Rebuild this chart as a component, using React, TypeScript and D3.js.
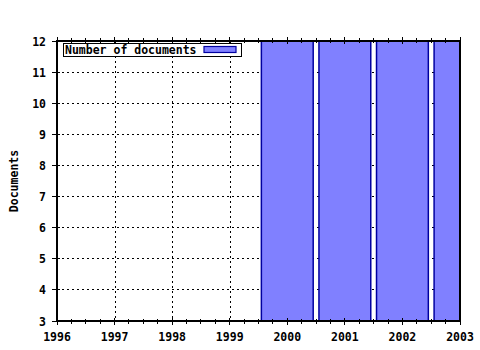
import React from "react";
import * as d3 from "d3";

const years = [1996, 1997, 1998, 1999, 2000, 2001, 2002, 2003];
const barYears = [2000, 2001, 2002, 2003];
const barValues = [16, 18, 20, 22];
const yTicks = [3, 4, 5, 6, 7, 8, 9, 10, 11, 12];
const legendLabel = "Number of documents";
const yLabel = "Documents";

const W = 480, H = 350;
const L = 57, R = 460, T = 41, B = 321;
const FONT = "'DejaVu Sans Mono', monospace";

export default function App() {
  const x = d3.scaleLinear().domain([1996, 2003]).range([L, R]);
  const y = d3.scaleLinear().domain([3, 12]).range([B, T]);
  const bw = 0.9;
  const minor: number[] = [];
  for (let i = 0; i < years.length - 1; i++) {
    for (let k = 1; k < 4; k++) minor.push(years[i] + k / 4);
  }
  return (
    <svg width={W} height={H} style={{ position: "absolute", left: 0, top: 0, background: "#fff" }}>
      <defs>
        <clipPath id="plot">
          <rect x={L} y={T} width={R - L} height={B - T} />
        </clipPath>
      </defs>
      <rect x={0} y={0} width={W} height={H} fill="#fff" />
      {/* grid */}
      {yTicks.slice(1, -1).map((v) => (
        <line key={"gy" + v} x1={L} x2={R} y1={y(v)} y2={y(v)} stroke="#000" strokeWidth={1} strokeDasharray="2,3" shapeRendering="crispEdges" />
      ))}
      {years.slice(1, -1).map((v) => (
        <line key={"gx" + v} x1={Math.round(x(v)) + 0.5} x2={Math.round(x(v)) + 0.5} y1={T} y2={B} stroke="#000" strokeWidth={1} strokeDasharray="2,3" shapeRendering="crispEdges" />
      ))}
      {/* bars */}
      <g clipPath="url(#plot)">
        {barYears.map((yr, i) => (
          <rect key={yr} x={x(yr - bw / 2)} width={x(yr + bw / 2) - x(yr - bw / 2)} y={y(barValues[i])} height={y(3) - y(barValues[i])} fill="#8080ff" stroke="#0000a0" strokeWidth={1.5} />
        ))}
      </g>
      {/* border */}
      <rect x={L} y={T} width={R - L} height={B - T} fill="none" stroke="#000" strokeWidth={1.2} shapeRendering="crispEdges" />
      {/* x ticks */}
      {years.map((v) => (
        <g key={"tx" + v}>
          <line x1={x(v)} x2={x(v)} y1={B - 3} y2={B + 4} stroke="#000" shapeRendering="crispEdges" />
          <line x1={x(v)} x2={x(v)} y1={T - 4} y2={T + 3} stroke="#000" shapeRendering="crispEdges" />
          <text x={x(v)} y={341} textAnchor="middle" fontFamily={FONT} fontWeight="bold" fontSize={11.5}>{v}</text>
        </g>
      ))}
      {minor.map((v, i) => (
        <g key={"mx" + i}>
          <line x1={x(v)} x2={x(v)} y1={B - 2} y2={B + 3} stroke="#000" shapeRendering="crispEdges" />
          <line x1={x(v)} x2={x(v)} y1={T - 3} y2={T + 2} stroke="#000" shapeRendering="crispEdges" />
        </g>
      ))}
      {/* y ticks */}
      {yTicks.map((v) => (
        <g key={"ty" + v}>
          <line x1={L - 5} x2={L + 3} y1={y(v)} y2={y(v)} stroke="#000" shapeRendering="crispEdges" />
          <text x={46} y={y(v) + 4.5} textAnchor="end" fontFamily={FONT} fontWeight="bold" fontSize={11.5}>{v}</text>
        </g>
      ))}
      {/* y label */}
      <text transform={`translate(18,181) rotate(-90)`} textAnchor="middle" fontFamily={FONT} fontWeight="bold" fontSize={11.5}>{yLabel}</text>
      {/* legend */}
      <rect x={63.5} y={43.5} width={178} height={13} fill="#fff" stroke="#000" strokeWidth={1} />
      <text x={65} y={54} fontFamily={FONT} fontWeight="bold" fontSize={11.5}>{legendLabel}</text>
      <rect x={204} y={46.5} width={32} height={6} fill="#8080ff" stroke="#0000a0" strokeWidth={1.2} />
    </svg>
  );
}
